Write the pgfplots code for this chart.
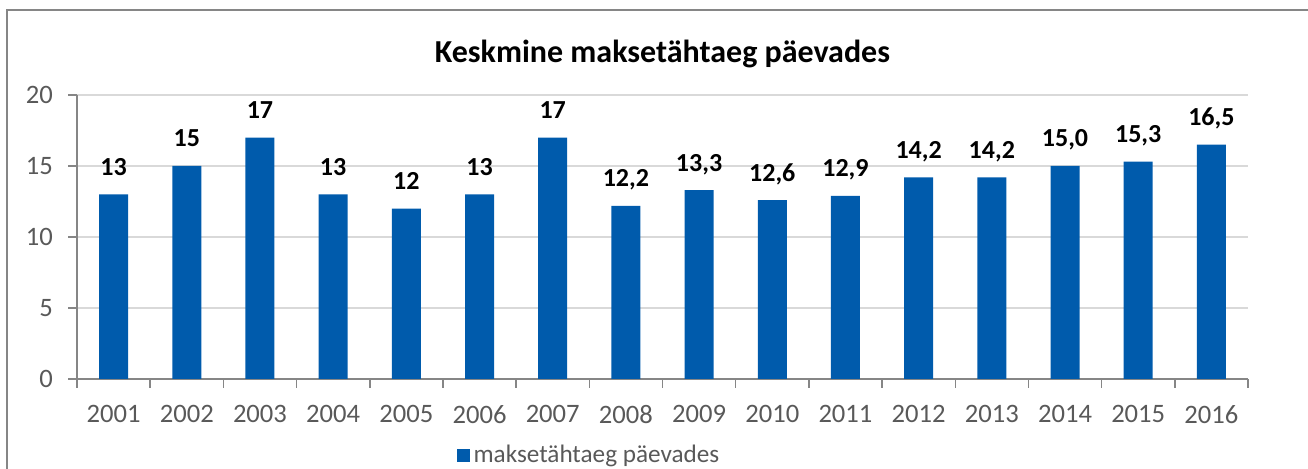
\documentclass[border=0pt]{standalone}
\usepackage{pgfplots}
\pgfplotsset{compat=1.18}
\usepackage{pgfplotstable}
\usepackage{fontspec}
\setmainfont{Carlito}

\definecolor{barblue}{HTML}{005BAC}
\definecolor{gridgray}{HTML}{D9D9D9}
\definecolor{axisgray}{HTML}{868686}
\definecolor{labelgray}{HTML}{595959}

% year index, shown label, value
\pgfplotstableread{
x lbl val
0 13 13
1 15 15
2 17 17
3 13 13
4 12 12
5 13 13
6 17 17
7 12,2 12.2
8 13,3 13.3
9 12,6 12.6
10 12,9 12.9
11 14,2 14.2
12 14,2 14.2
13 15,0 15.0
14 15,3 15.3
15 16,5 16.5
}\datatable

\begin{document}
\begin{tikzpicture}
  \path[use as bounding box] (0,0) rectangle (654pt,-234.5pt);
  \draw[axisgray, line width=0.75pt] (3.5pt,-240pt) -- (3.5pt,-5pt) -- (660pt,-5pt);
  \begin{axis}[
      at={(38.5pt,-189.5pt)}, anchor=south west,
      scale only axis,
      width=585.5pt, height=142pt,
      ybar, bar width=14.5pt,
      xmin=-0.5, xmax=15.5,
      ymin=0, ymax=20,
      ytick={0,5,...,20},
      xtick={0,...,15},
      xticklabels={2001,2002,2003,2004,2005,2006,2007,2008,2009,2010,2011,2012,2013,2014,2015,2016},
      minor xtick={-0.5,0.5,...,15.5},
      major x tick style={draw=none},
      tick align=outside,
      major tick length=4.5pt, minor tick length=4.5pt,
      axis x line*=bottom, axis y line*=left,
      axis line style={axisgray, line width=0.75pt},
      tick style={axisgray, line width=0.75pt},
      ymajorgrids,
      major grid style={gridgray, line width=0.75pt},
      /pgf/number format/assume math mode=true,
      ticklabel style={font=\fontsize{13.3}{16}\selectfont, text=labelgray},
      yticklabel style={xshift=-4pt},
      xticklabel style={yshift=-5pt},
      title={Keskmine maksetähtaeg päevades},
      title style={font=\bfseries\fontsize{16}{19}\selectfont, at={(0.5,1)}, anchor=center, yshift=14.5pt},
      legend style={at={(0.438,-0.268)}, anchor=center, draw=none, fill=none,
        font=\fontsize{12.6}{15}\selectfont, text=labelgray},
      legend image code/.code={\fill[barblue] (0pt,-3.25pt) rectangle (6.5pt,3.25pt);},
      point meta=explicit symbolic,
      nodes near coords,
      every node near coord/.append style={font=\bfseries\fontsize{13}{15}\selectfont, text=black, anchor=base, yshift=9.5pt},
    ]
    \addplot[fill=barblue, draw=none] table[x=x, y=val, meta=lbl] {\datatable};
    \addlegendentry{maksetähtaeg päevades}
  \end{axis}
\end{tikzpicture}
\end{document}
